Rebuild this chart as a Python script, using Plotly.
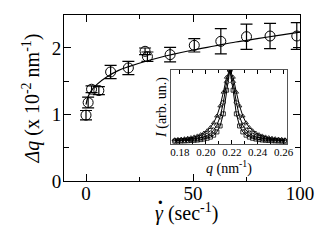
import plotly.graph_objects as go

# Main data: shear rate vs peak width
rate = [0, 1, 2.6, 6, 11.5, 19.8, 27.6, 28.7, 39.3, 50.6, 63, 75, 86, 98.5]
dq = [0.99, 1.18, 1.38, 1.36, 1.64, 1.70, 1.95, 1.87, 1.90, 2.04, 2.10, 2.17, 2.18, 2.18]
dq_err = [0.07, 0.08, 0.05, 0.06, 0.10, 0.10, 0.05, 0.07, 0.11, 0.10, 0.19, 0.19, 0.19, 0.20]

# Fit curve
fit_x = [0, 1, 2.5, 5, 10, 15, 20, 30, 40, 50, 60, 70, 80, 90, 100]
fit_y = [1.15, 1.27, 1.36, 1.45, 1.57, 1.66, 1.72, 1.82, 1.90, 1.97, 2.03, 2.09, 2.14, 2.19, 2.24]

# Inset: scattering profiles
q_inset = [0.176, 0.1785, 0.181, 0.1835, 0.186, 0.1885, 0.191, 0.1935, 0.196, 0.1985,
           0.201, 0.2035, 0.206, 0.2085, 0.211, 0.2135, 0.216, 0.2185, 0.221, 0.2235,
           0.226, 0.2285, 0.231, 0.2335, 0.236, 0.2385, 0.241, 0.2435, 0.246, 0.2485,
           0.251, 0.2535, 0.256, 0.2585, 0.261]
I_narrow = [0.009, 0.010, 0.011, 0.013, 0.015, 0.018, 0.021, 0.025, 0.031, 0.039,
            0.050, 0.066, 0.093, 0.138, 0.221, 0.390, 0.719, 1.000, 0.719, 0.390,
            0.221, 0.138, 0.093, 0.066, 0.050, 0.039, 0.031, 0.025, 0.021, 0.018,
            0.015, 0.013, 0.011, 0.010, 0.009]
I_mid = [0.017, 0.019, 0.021, 0.024, 0.028, 0.033, 0.039, 0.046, 0.056, 0.070,
         0.090, 0.119, 0.162, 0.232, 0.350, 0.548, 0.829, 1.000, 0.829, 0.548,
         0.350, 0.232, 0.162, 0.119, 0.090, 0.070, 0.056, 0.046, 0.039, 0.033,
         0.028, 0.024, 0.021, 0.019, 0.017]
I_wide = [0.030, 0.034, 0.039, 0.044, 0.051, 0.059, 0.069, 0.083, 0.100, 0.123,
          0.155, 0.200, 0.265, 0.360, 0.500, 0.692, 0.900, 1.000, 0.900, 0.692,
          0.500, 0.360, 0.265, 0.200, 0.155, 0.123, 0.100, 0.083, 0.069, 0.059,
          0.051, 0.044, 0.039, 0.034, 0.030]

FONT = "Liberation Serif, Times New Roman, Times, serif"

fig = go.Figure()

fig.add_trace(go.Scatter(
    x=fit_x, y=fit_y, mode="lines", line=dict(color="black", width=1.2, shape="spline"),
    xaxis="x", yaxis="y", showlegend=False))
fig.add_trace(go.Scatter(
    x=rate, y=dq, mode="markers",
    marker=dict(symbol="circle-open", size=10, color="black", line=dict(width=1)),
    error_y=dict(type="data", array=dq_err, color="black", thickness=1.2, width=6),
    xaxis="x", yaxis="y", showlegend=False))

for vals, sym in [(I_wide, "triangle-up-open"), (I_mid, "diamond-open"), (I_narrow, "square-open")]:
    fig.add_trace(go.Scatter(
        x=q_inset, y=vals, mode="lines+markers",
        line=dict(color="black", width=1),
        marker=dict(symbol=sym, size=4, color="black", line=dict(width=0.8)),
        xaxis="x2", yaxis="y2", showlegend=False))

axis_common = dict(showline=True, linecolor="black", linewidth=1, mirror="allticks",
                   ticks="inside", tickcolor="black", showgrid=False, zeroline=False,
                   automargin=False)

fig.update_layout(
    width=316, height=225,
    margin=dict(l=56, r=24, t=7, b=52, autoexpand=False),
    paper_bgcolor="white", plot_bgcolor="white",
    font=dict(family=FONT, color="black", size=19),
    xaxis=dict(domain=[0, 1], range=[-10.28, 100], tickvals=[0, 50, 100],
               ticklen=7, tickwidth=1, ticklabelstandoff=-5,
               minor=dict(tickvals=[25, 75], ticklen=4, ticks="inside", tickcolor="black"),
               tickfont=dict(size=19, family=FONT),
               **axis_common),
    yaxis=dict(domain=[0, 1], range=[0, 2.496], tickvals=[0, 1, 2],
               ticklen=7, tickwidth=1, ticklabelstandoff=-2,
               minor=dict(tickvals=[0.5, 1.5], ticklen=5, ticks="inside", tickcolor="black"),
               tickfont=dict(size=19, family=FONT),
               title=dict(text="<i>Δq</i> (x 10<sup>-2</sup> nm<sup>-1</sup>)", font=dict(size=20, family=FONT), standoff=6),
               **axis_common),
    xaxis2=dict(domain=[0.4534, 0.945], anchor="y2", range=[0.1731, 0.2626],
                tickvals=[0.18, 0.20, 0.22, 0.24, 0.26], ticktext=["0.18", "0.20", "0.22", "0.24", "0.26"],
                ticklen=4, tickwidth=1, ticklabelstandoff=-2,
                minor=dict(tickvals=[0.19, 0.21, 0.23, 0.25], ticklen=3, ticks="inside", tickcolor="black"),
                tickfont=dict(size=11, family=FONT),
                title=dict(text="<i>q</i> (nm<sup>-1</sup>)", font=dict(size=14, family=FONT), standoff=0),
                showline=True, linecolor="#555", linewidth=1, mirror="allticks",
                ticks="inside", tickcolor="black", showgrid=False, zeroline=False, automargin=False),
    yaxis2=dict(domain=[0.2229, 0.6687], anchor="x2", range=[-0.03, 1.0],
                showticklabels=False, ticks="",
                title=dict(text="<i>I</i> (arb. un.)", font=dict(size=14, family=FONT), standoff=0),
                showline=True, linecolor="#555", linewidth=1, mirror=True,
                showgrid=False, zeroline=False, automargin=False),
    annotations=[
        dict(text="<i>γ</i> (sec<sup>-1</sup>)", xref="paper", yref="paper",
             x=0.377, y=-0.19, xanchor="left", yanchor="middle", showarrow=False,
             font=dict(size=20, family=FONT)),
        dict(text="<b>·</b>", xref="paper", yref="paper",
             x=0.41, y=-0.125, xanchor="center", yanchor="middle", showarrow=False,
             font=dict(size=20, family=FONT)),
    ],
)

fig.write_html("out.html")
